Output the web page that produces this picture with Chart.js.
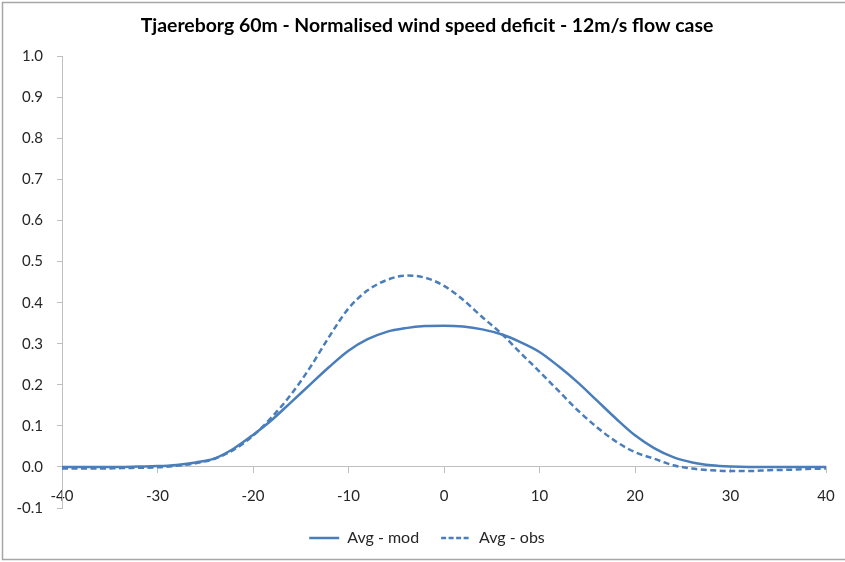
<!DOCTYPE html>
<html>
<head>
<meta charset="utf-8">
<script src="https://cdn.jsdelivr.net/npm/chart.js@4.4.1/dist/chart.umd.min.js"></script>
<style>
  html, body { margin: 0; padding: 0; background: #fff; overflow: hidden; }
  #wrap { width: 845px; height: 562px; position: relative; overflow: hidden; }
  #c { position: absolute; left: 0; top: 0; }
</style>
</head>
<body>
<div id="wrap"><canvas id="c" width="854" height="562"></canvas></div>
<script>
// ---- data ----
const xPositions = [-40,-38,-36,-34,-32,-30,-28,-26,-24,-22,-20,-18,-16,-14,-12,-10,-8,-6,-4,-2,0,2,4,6,8,10,12,14,16,18,20,22,24,26,28,30,32,34,36,38,40];
const avgMod = [0.000,0.000,0.000,0.000,0.001,0.002,0.005,0.011,0.021,0.045,0.078,0.115,0.158,0.201,0.244,0.283,0.311,0.329,0.338,0.343,0.344,0.342,0.335,0.323,0.304,0.280,0.245,0.206,0.162,0.118,0.077,0.046,0.024,0.011,0.004,0.001,0.000,0.000,0.000,0.000,0.000];
const avgObs = [-0.004,-0.004,-0.004,-0.003,-0.002,-0.001,0.003,0.009,0.020,0.042,0.076,0.122,0.177,0.243,0.318,0.386,0.430,0.455,0.466,0.461,0.441,0.407,0.365,0.325,0.278,0.232,0.185,0.138,0.097,0.062,0.036,0.020,0.004,-0.004,-0.008,-0.010,-0.010,-0.008,-0.007,-0.005,-0.004];
const seriesNames = ['Avg - mod', 'Avg - obs'];
const chartTitle = 'Tjaereborg 60m - Normalised wind speed deficit - 12m/s flow case';
const xMin = -40, xMax = 40, xStep = 10;
const yMin = -0.1, yMax = 1.0, yStep = 0.1;

const toPoints = (xs, ys) => xs.map((x, i) => ({ x: x, y: ys[i] }));

const lineColor = '#4A7EBB';
const axisColor = '#BFBFBF';
const textColor = '#262626';
const fontFamily = 'Lato, "Open Sans", "Liberation Sans", sans-serif';

const framePlugin = {
  id: 'frame',
  beforeDraw(chart) {
    const ctx = chart.ctx;
    ctx.save();
    ctx.fillStyle = '#ffffff';
    ctx.fillRect(0, 0, chart.width, chart.height);
    ctx.strokeStyle = '#A6A6A6';
    ctx.lineWidth = 1.5;
    ctx.strokeRect(2.5, 2.5, chart.width + 10, 557);
    ctx.restore();
  }
};

new Chart(document.getElementById('c'), {
  type: 'line',
  data: {
    datasets: [
      {
        label: seriesNames[0],
        data: toPoints(xPositions, avgMod),
        borderColor: lineColor,
        backgroundColor: lineColor,
        borderWidth: 2.5,
        pointRadius: 0,
        cubicInterpolationMode: 'monotone',
        fill: false
      },
      {
        label: seriesNames[1],
        data: toPoints(xPositions, avgObs),
        borderColor: lineColor,
        backgroundColor: lineColor,
        borderWidth: 2.5,
        borderDash: [6, 3.5],
        pointRadius: 0,
        cubicInterpolationMode: 'monotone',
        fill: false
      }
    ]
  },
  options: {
    responsive: false,
    animation: false,
    devicePixelRatio: 1,
    layout: { padding: { left: 0, right: 0, top: 0, bottom: 6 } },
    plugins: {
      title: {
        display: true,
        text: chartTitle,
        color: '#000',
        font: { family: fontFamily, size: 19.4, weight: 'bold' },
        padding: { top: 14, bottom: 19 }
      },
      legend: {
        position: 'bottom',
        labels: {
          usePointStyle: true,
          pointStyle: 'line',
          pointStyleWidth: 30,
          boxHeight: 4,
          color: textColor,
          font: { family: fontFamily, size: 16 },
          padding: 22,
          generateLabels: (chart) => chart.data.datasets.map((ds, i) => ({
            text: ds.label,
            fillStyle: ds.borderColor,
            strokeStyle: ds.borderColor,
            fontColor: textColor,
            lineWidth: ds.borderWidth,
            lineDash: ds.borderDash ? [5, 2.5] : [],
            lineCap: 'butt',
            pointStyle: 'line',
            hidden: false,
            datasetIndex: i
          }))
        }
      },
      tooltip: { enabled: false }
    },
    scales: {
      x: {
        type: 'linear',
        position: { y: 0 },
        min: xMin,
        max: xMax,
        ticks: {
          stepSize: xStep,
          color: textColor,
          font: { family: fontFamily, size: 15 },
          padding: 14,
          maxRotation: 0
        },
        grid: { drawOnChartArea: false, drawTicks: true, tickLength: 6, color: axisColor },
        border: { display: true, color: axisColor, width: 1 }
      },
      y: {
        type: 'linear',
        position: 'left',
        min: yMin,
        max: yMax,
        afterFit(scale) { scale.width = 62; },
        ticks: {
          stepSize: yStep,
          color: textColor,
          font: { family: fontFamily, size: 15 },
          padding: 14,
          callback: (v) => Number(v).toFixed(1)
        },
        grid: { drawOnChartArea: false, drawTicks: true, tickLength: 5, color: axisColor },
        border: { display: true, color: axisColor, width: 1 }
      },
      ySpacer: {
        type: 'linear',
        position: 'right',
        min: yMin,
        max: yMax,
        afterFit(scale) { scale.width = 28; },
        ticks: { display: false },
        grid: { display: false, drawTicks: false },
        border: { display: false }
      }
    }
  },
  plugins: [framePlugin]
});
</script>
</body>
</html>
